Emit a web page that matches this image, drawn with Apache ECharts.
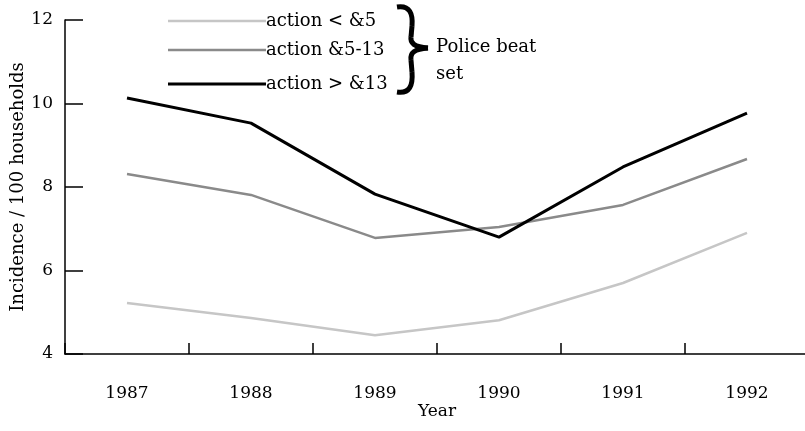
<!DOCTYPE html>
<html><head><meta charset="utf-8">
<script src="https://cdn.jsdelivr.net/npm/echarts@6/dist/echarts.min.js"></script>
<style>html,body{margin:0;padding:0;background:#fff}#c{width:805px;height:431px}</style>
</head><body><div id="c"></div>
<script>
var years = ['1987','1988','1989','1990','1991','1992'];
var actionLow = [5.22, 4.86, 4.45, 4.81, 5.70, 6.90];
var actionMid = [8.31, 7.81, 6.78, 7.04, 7.57, 8.67];
var actionHigh = [10.13, 9.53, 7.83, 6.80, 8.48, 9.77];
var seriesNames = ['action < &5', 'action &5-13', 'action > &13'];
var yTicks = {min: 4, max: 12, interval: 2};

var font = 'DejaVu Serif';
var chart = echarts.init(document.getElementById('c'), null, {renderer: 'canvas'});
function leg(name, top) {
  return {
    data: [name], left: 168, top: top, orient: 'vertical', icon: 'rect',
    itemWidth: 98, itemHeight: name === seriesNames[2] ? 3 : 2.5, itemGap: 0,
    padding: 0, selectedMode: false,
    textStyle: {fontFamily: font, fontSize: 18, color: '#000', padding: [0, 0, 0, -5]}
  };
}
var braceStyle = {fill: 'none', stroke: '#000', lineWidth: 5};
function bz(x1, y1, c1x, c1y, c2x, c2y, x2, y2) {
  return {type: 'bezierCurve', shape: {x1: x1, y1: y1, cpx1: c1x, cpy1: c1y, cpx2: c2x, cpy2: c2y, x2: x2, y2: y2}, style: braceStyle};
}
function ln(x1, y1, x2, y2) {
  return {type: 'line', shape: {x1: x1, y1: y1, x2: x2, y2: y2}, style: braceStyle};
}
chart.setOption({
  animation: false,
  backgroundColor: '#fff',
  grid: {left: 65, top: 20, width: 744, height: 334, containLabel: false, outerBoundsMode: 'none'},
  legend: [leg(seriesNames[0], 12), leg(seriesNames[1], 41), leg(seriesNames[2], 75)],
  xAxis: {
    type: 'category', data: years, boundaryGap: true,
    name: 'Year', nameLocation: 'middle', nameGap: 49, nameMoveOverlap: false,
    nameTextStyle: {fontFamily: font, fontSize: 17, color: '#000'},
    axisLine: {lineStyle: {color: '#000', width: 1.5}},
    axisTick: {show: true, interval: 0, inside: true, length: 11, lineStyle: {color: '#000', width: 1.5}},
    axisLabel: {fontFamily: font, fontSize: 17, color: '#000', margin: 31},
    splitLine: {show: false}
  },
  yAxis: {
    type: 'value', min: yTicks.min, max: yTicks.max, interval: yTicks.interval,
    name: 'Incidence / 100 households', nameLocation: 'middle', nameGap: 38, nameMoveOverlap: false,
    nameTextStyle: {fontFamily: font, fontSize: 18, color: '#000'},
    axisLine: {show: true, lineStyle: {color: '#000', width: 1.5}},
    axisTick: {show: true, inside: true, length: 18, lineStyle: {color: '#000', width: 1.5}},
    axisLabel: {fontFamily: font, fontSize: 17, color: '#000', margin: 12},
    splitLine: {show: false}
  },
  graphic: [
    bz(397, 7, 410, 5, 413, 14, 412, 26),
    ln(412, 26, 411, 37),
    bz(411, 37, 410, 43, 414, 47, 428, 48),
    bz(428, 48, 414, 49, 410, 53, 411, 60),
    ln(411, 60, 412, 72),
    bz(412, 72, 413, 85, 410, 94, 397, 92),
    {type: 'text', left: 436, top: 38, style: {text: 'Police beat', font: '18px "DejaVu Serif"', fill: '#000'}},
    {type: 'text', left: 436, top: 65, style: {text: 'set', font: '18px "DejaVu Serif"', fill: '#000'}}
  ],
  series: [
    {name: seriesNames[0], type: 'line', data: actionLow, showSymbol: false, symbol: 'none',
     lineStyle: {color: '#c6c6c6', width: 2.5}, itemStyle: {color: '#c6c6c6'}},
    {name: seriesNames[1], type: 'line', data: actionMid, showSymbol: false, symbol: 'none',
     lineStyle: {color: '#8a8a8a', width: 2.5}, itemStyle: {color: '#8a8a8a'}},
    {name: seriesNames[2], type: 'line', data: actionHigh, showSymbol: false, symbol: 'none',
     lineStyle: {color: '#000', width: 3}, itemStyle: {color: '#000'}}
  ]
});
</script></body></html>
